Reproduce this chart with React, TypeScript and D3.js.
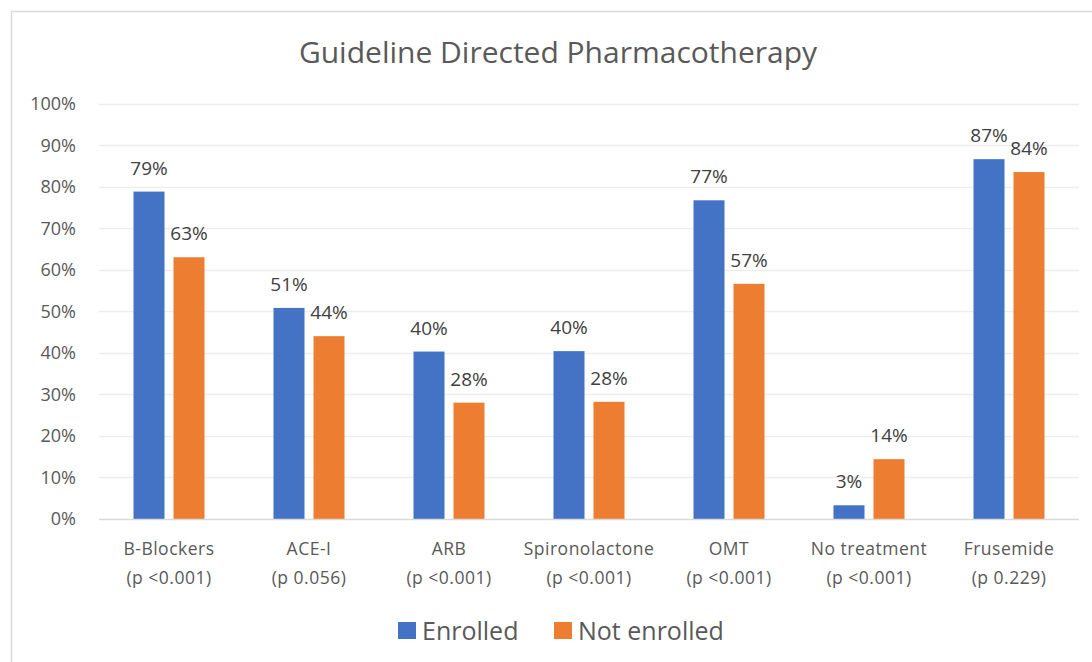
import React, { useEffect, useRef } from "react";
import * as d3 from "d3";

const categories = ["B-Blockers", "ACE-I", "ARB", "Spironolactone", "OMT", "No treatment", "Frusemide"];
const pValues = ["(p <0.001)", "(p 0.056)", "(p <0.001)", "(p <0.001)", "(p <0.001)", "(p <0.001)", "(p 0.229)"];
const seriesNames = ["Enrolled", "Not enrolled"];
const enrolled = [78.8, 50.8, 40.3, 40.4, 76.7, 3.3, 86.6];
const notEnrolled = [63.0, 44.0, 28.0, 28.2, 56.6, 14.4, 83.5];
const yTicks = [0, 10, 20, 30, 40, 50, 60, 70, 80, 90, 100];

const colors = ["#4472C4", "#ED7D31"];
const font = "'Open Sans', 'Noto Sans', sans-serif";

export default function App() {
  const ref = useRef<SVGSVGElement>(null);

  useEffect(() => {
    const svg = d3.select(ref.current);
    svg.selectAll("*").remove();
    const width = 1092, height = 662;
    const left = 99, right = 1079, top = 103.5, bottom = 519;

    svg.attr("width", width).attr("height", height);

    // chart frame
    svg.append("rect")
      .attr("x", 11.5).attr("y", 11.5)
      .attr("width", 1100).attr("height", 700)
      .attr("fill", "#fff")
      .attr("stroke", "#D9D9D9")
      .attr("stroke-width", 1.5);

    svg.append("text")
      .attr("x", 558).attr("y", 63)
      .attr("text-anchor", "middle")
      .attr("font-family", font)
      .attr("font-size", 30)
      .attr("fill", "#595959")
      .text("Guideline Directed Pharmacotherapy");

    const y = d3.scaleLinear().domain([0, 100]).range([bottom, top]);
    const x0 = d3.scaleBand().domain(categories).range([left, right]);
    const x1 = d3.scaleBand().domain(seriesNames).range([34.5, 105.5]).paddingInner(0.225);

    // gridlines
    svg.append("g").selectAll("line")
      .data(yTicks.slice(1))
      .enter().append("line")
      .attr("x1", left).attr("x2", right)
      .attr("y1", d => Math.round(y(d)) + 0.5).attr("y2", d => Math.round(y(d)) + 0.5)
      .attr("stroke", "#EDEDED")
      .attr("stroke-width", 1.5);

    svg.append("g").selectAll("text")
      .data(yTicks)
      .enter().append("text")
      .attr("x", 76).attr("y", d => y(d))
      .attr("dy", "0.36em")
      .attr("text-anchor", "end")
      .attr("font-family", font)
      .attr("font-size", 18)
      .attr("fill", "#595959")
      .text(d => d + "%");

    const series = [enrolled, notEnrolled];
    const groups = svg.append("g").selectAll("g")
      .data(categories)
      .enter().append("g")
      .attr("transform", d => `translate(${x0(d)},0)`);

    seriesNames.forEach((name, s) => {
      groups.append("rect")
        .attr("x", x1(name)!)
        .attr("width", x1.bandwidth())
        .attr("y", (d, i) => y(series[s][i]))
        .attr("height", (d, i) => bottom - y(series[s][i]))
        .attr("fill", colors[s]);
      groups.append("text")
        .attr("x", x1(name)! + x1.bandwidth() / 2)
        .attr("y", (d, i) => y(series[s][i]) - 17)
        .attr("text-anchor", "middle")
        .attr("font-family", font)
        .attr("font-size", 19)
        .attr("fill", "#404040")
        .text((d, i) => Math.round(series[s][i]) + "%");
    });

    // baseline
    svg.append("line")
      .attr("x1", left).attr("x2", right)
      .attr("y1", bottom + 0.5).attr("y2", bottom + 0.5)
      .attr("stroke", "#D9D9D9")
      .attr("stroke-width", 1.5);

    // category labels
    const labels = groups.append("text")
      .attr("text-anchor", "middle")
      .attr("font-family", font)
      .attr("font-size", 17.5)
      .attr("letter-spacing", 0.5)
      .attr("fill", "#595959");
    labels.append("tspan")
      .attr("x", x0.bandwidth() / 2).attr("y", 555)
      .text(d => d);
    labels.append("tspan")
      .attr("x", x0.bandwidth() / 2).attr("y", 584)
      .text((d, i) => pValues[i]);

    // legend
    const legendX = [398, 554];
    const legend = svg.append("g").selectAll("g")
      .data(seriesNames)
      .enter().append("g")
      .attr("transform", (d, i) => `translate(${legendX[i]},622)`);
    legend.append("rect")
      .attr("width", 18).attr("height", 17)
      .attr("fill", (d, i) => colors[i]);
    legend.append("text")
      .attr("x", 24).attr("y", 9)
      .attr("dy", "0.36em")
      .attr("font-family", font)
      .attr("font-size", 25)
      .attr("fill", "#595959")
      .text(d => d);
  }, []);

  return <svg ref={ref} style={{ position: "absolute", left: 0, top: 0, display: "block" }} />;
}
